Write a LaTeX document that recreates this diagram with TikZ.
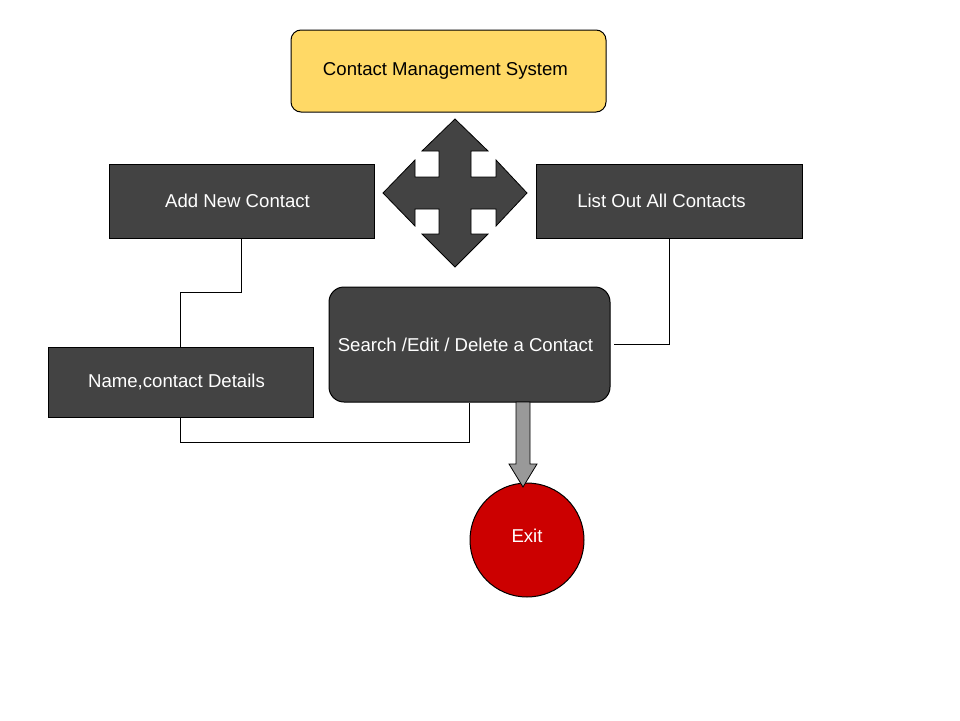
\documentclass[tikz,border=0pt]{standalone}
\usepackage{fontspec}
\setmainfont{Liberation Sans}
\definecolor{ylw}{HTML}{FFD966}
\definecolor{dgray}{HTML}{434343}
\definecolor{exitred}{HTML}{CC0000}
\definecolor{lgray}{HTML}{999999}
\begin{document}
\begin{tikzpicture}[x=1pt,y=-1pt,
  lbl/.style={font=\fontsize{18.6}{22}\selectfont},
  darkbox/.style={lbl, draw=black, line width=1pt, fill=dgray, text=white, rectangle, inner sep=0pt},
  conn/.style={draw=black, line width=1pt}]
\fill[white] (0,0) rectangle (960,720);
\useasboundingbox (0,0) rectangle (960,720);

\node[lbl, draw=black, line width=1pt, fill=ylw, rounded corners=10pt, minimum width=315pt, minimum height=82pt, inner sep=0pt] (cms) at (448.5,71) {\hspace*{-6pt}\raisebox{-2pt}{Contact Management System}};

\node[darkbox, minimum width=265pt, minimum height=74pt] (add) at (241.5,201) {\hspace*{-8pt}Add New Contact};
\node[darkbox, minimum width=266pt, minimum height=74pt] (list) at (669,201) {\hspace*{-15pt}List Out All Contacts};
\node[darkbox, rounded corners=15pt, minimum width=281pt, minimum height=115pt] (search) at (469.5,344.5) {\hspace*{-8pt}Search /Edit / Delete a Contact};
\node[darkbox, minimum width=265pt, minimum height=70pt] (name) at (180.5,382) {\hspace*{-8pt}Name,contact Details};
\node[lbl, circle, draw=black, line width=1pt, fill=exitred, text=white, minimum size=114pt, inner sep=0pt] (exit) at (527,540) {\raisebox{9pt}{Exit}};

% four-way arrow
\coordinate (c4) at (455,193);
\filldraw[fill=dgray, draw=black, line width=0.8pt, shift={(c4)}]
  (0,-74) -- (33,-42) -- (16,-42) -- (16,-16) -- (41,-16) -- (41,-33) -- (72,0)
  -- (41,33) -- (41,16) -- (16,16) -- (16,41) -- (33,41) -- (0,74)
  -- (-33,41) -- (-16,41) -- (-16,16) -- (-40,16) -- (-40,33) -- (-72,0)
  -- (-40,-33) -- (-40,-16) -- (-16,-16) -- (-16,-42) -- (-33,-42) -- cycle;

% connectors
\draw[conn] (add.south) -- (add.south |- 0,292) -| (name.north);
\draw[conn] (name.south) -- (name.south |- 0,442) -| (search.south);
\draw[conn] (list.south) |- ([xshift=3pt]search.east);

% grey down arrow
\coordinate (ga) at (523,402);
\filldraw[fill=lgray, draw=black, line width=0.8pt, shift={(ga)}]
  (-7,0) -- (7,0) -- (7,62) -- (14,62) -- (0,85) -- (-14,62) -- (-7,62) -- cycle;
\end{tikzpicture}
\end{document}
